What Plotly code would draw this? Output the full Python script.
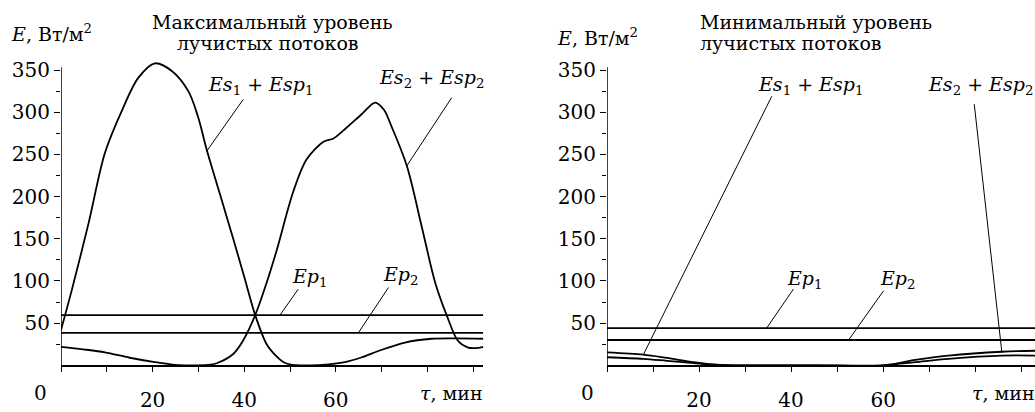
import plotly.graph_objects as go

# ---------------- data ----------------
# Left panel: maximum level of radiant fluxes
t_es1_max = [0, 2.3, 6, 9.6, 13.3, 16.9, 20.5, 24.2, 27.8, 29.9, 31.8, 34.7, 37.6, 40, 42.4,
             44.9, 46.8, 48.5, 50.5, 53, 57, 62, 65.7, 69.3, 75.1, 80.9, 86, 92.2]
v_es1_max = [42, 88, 168, 252, 302, 341, 358, 349, 325, 295, 256, 203, 150, 105, 59.5,
             25, 12, 4, 0.5, 0, 0.5, 3.8, 9.6, 17, 27, 31.5, 32, 31.5]

t_es2_max = [0, 4.8, 9.6, 15, 20.5, 25, 28, 32, 34, 37.6, 39.7, 42.4, 44.9, 47.1, 50.7,
             53.6, 57.3, 59.5, 62.2, 65.7, 68.6, 70.5, 72.2, 75.5, 78.8, 81.7, 84.2,
             86.7, 88.9, 90.5, 92.2]
v_es2_max = [22, 19, 15.4, 9, 3.8, 0.5, 0, 0.5, 2.5, 13.4, 28.8, 59.5, 98, 136.5, 205.7,
             244, 265, 269, 281, 298, 311.5, 303, 282.7, 236.5, 163.4, 98, 59.5,
             28.8, 21, 20.5, 22]

ep1_max = 59.5
ep2_max = 38.4

# Right panel: minimum level of radiant fluxes
t_es1_min = [0, 7.9, 13, 18.8, 23, 27.4, 45, 60, 67, 74.2, 85.8, 93]
v_es1_min = [15.4, 12.7, 8.8, 3.8, 1, 0, 0, 0, 3.8, 7.7, 11.5, 11.5]
t_es2_min = [0, 7.9, 13, 18.8, 23, 27.4, 45, 60, 67, 74.2, 85.8, 93]
v_es2_min = [9.6, 7.7, 5.4, 2.7, 0.8, 0, 0, 0, 6.5, 11.5, 16.1, 17.3]

ep1_min = 44.2
ep2_min = 30.0

x_max_left = 92.2
x_max_right = 93.0
y_axis_top = 353.5
y_view_top = 362.0

y_ticks = [50, 100, 150, 200, 250, 300, 350]
x_ticks = [20, 40, 60]

titles_left = ["Максимальный уровень", "лучистых потоков"]
titles_right = ["Минимальный уровень", "лучистых потоков"]
y_title = "<i>E</i>, Вт/м<sup>2</sup>"
x_title = "<i>τ</i>, мин"
lbl_es1 = "<i>Es</i><sub>1</sub> + <i>Esp</i><sub>1</sub>"
lbl_es2 = "<i>Es</i><sub>2</sub> + <i>Esp</i><sub>2</sub>"
lbl_ep1 = "<i>Ep</i><sub>1</sub>"
lbl_ep2 = "<i>Ep</i><sub>2</sub>"

# ---------------- layout geometry ----------------
W, H = 1035, 412
FONT = "DejaVu Serif"
FS = 19
Y0_PX = 373.3          # pixel row of value 0
PX_PER_UNIT = 0.8667   # vertical pixels per W/m2


def px(p):
    return p / W


def py(p):
    return 1 - p / H


fig = go.Figure()

line = dict(color="black", width=1.8)
spl = dict(**line, shape="spline", smoothing=0.9)
# left panel
fig.add_trace(go.Scatter(x=t_es1_max, y=v_es1_max, mode="lines", line=spl, xaxis="x", yaxis="y"))
fig.add_trace(go.Scatter(x=t_es2_max, y=v_es2_max, mode="lines", line=spl, xaxis="x", yaxis="y"))
fig.add_trace(go.Scatter(x=[0, x_max_left], y=[ep1_max, ep1_max], mode="lines", line=line, xaxis="x", yaxis="y"))
fig.add_trace(go.Scatter(x=[0, x_max_left], y=[ep2_max, ep2_max], mode="lines", line=line, xaxis="x", yaxis="y"))
# right panel
fig.add_trace(go.Scatter(x=t_es1_min, y=v_es1_min, mode="lines", line=spl, xaxis="x2", yaxis="y2"))
fig.add_trace(go.Scatter(x=t_es2_min, y=v_es2_min, mode="lines", line=spl, xaxis="x2", yaxis="y2"))
fig.add_trace(go.Scatter(x=[0, x_max_right], y=[ep1_min, ep1_min], mode="lines", line=line, xaxis="x2", yaxis="y2"))
fig.add_trace(go.Scatter(x=[0, x_max_right], y=[ep2_min, ep2_min], mode="lines", line=line, xaxis="x2", yaxis="y2"))

ydom = [py(Y0_PX), py(Y0_PX - y_view_top * PX_PER_UNIT)]
common_x = dict(showline=True, linecolor="black", linewidth=1.5, showgrid=False, zeroline=False,
                tickvals=x_ticks, ticks="outside", ticklen=5, tickwidth=1.2, tickcolor="black",
                minor=dict(dtick=10, tick0=0, ticks="outside", ticklen=5, tickwidth=1.2, tickcolor="black"),
                tickfont=dict(family=FONT, size=FS + 1, color="black"), ticklabelstandoff=11,
                fixedrange=True)
common_y = dict(showline=False, showgrid=False, zeroline=False,
                range=[0, y_view_top], tickvals=y_ticks, ticks="outside", ticklen=6, tickwidth=1.2,
                tickcolor="black",
                minor=dict(tickvals=[25, 75, 125, 175, 225, 275, 325], ticks="outside", ticklen=4,
                           tickwidth=1.2, tickcolor="black"),
                tickfont=dict(family=FONT, size=FS + 1, color="black"), domain=ydom, fixedrange=True)

fig.update_layout(
    width=W, height=H, margin=dict(l=0, r=0, t=0, b=0),
    paper_bgcolor="white", plot_bgcolor="rgba(0,0,0,0)", showlegend=False,
    xaxis=dict(**common_x, domain=[px(61), px(483.3)], range=[0, x_max_left], anchor="y"),
    yaxis=dict(**common_y, anchor="x"),
    xaxis2=dict(**common_x, domain=[px(607), 1.0], range=[0, x_max_right], anchor="y2"),
    yaxis2=dict(**common_y, anchor="x2"),
)

ann = []


def txt(text, x, y, xanchor="center", size=FS):
    ann.append(dict(text=text, x=px(x), y=py(y), xref="paper", yref="paper", xanchor=xanchor,
                    yanchor="middle", showarrow=False, font=dict(family=FONT, size=size, color="black")))


# titles
txt(titles_left[0], 272, 21)
txt(titles_left[1], 268, 42)
txt(titles_right[0], 698, 21, xanchor="left")
txt(titles_right[1], 698, 42, xanchor="left")
# axis titles
txt(y_title, 51, 32)
txt(y_title, 597, 36)
txt("0", 40, 402, size=FS + 1)
txt("0", 587, 402, size=FS + 1)
txt(x_title, 451, 402)
txt(x_title, 1003, 402)
# curve labels
txt(lbl_es1, 260, 86)
txt(lbl_es2, 431, 79)
txt(lbl_ep1, 310, 283)
txt(lbl_ep2, 401, 281)
txt(lbl_es1, 810, 86)
txt(lbl_es2, 980, 86)
txt(lbl_ep1, 805, 285)
txt(lbl_ep2, 898, 285)

fig.update_layout(annotations=ann)

# y-axis lines (drawn from 0 to the axis top)
for a in ["", "2"]:
    fig.add_shape(type="line", x0=0, y0=0, x1=0, y1=y_axis_top, xref="x" + a, yref="y" + a,
                  line=dict(color="black", width=1.5))

# leader lines (data coordinates): (x0, y0, x1, y1, axis)
leaders = [
    (39.8, 315.3, 31.8, 253.8, ""),
    (85.3, 317.3, 75.5, 236.5, ""),
    (51.8, 90.3, 47.8, 59.5, ""),
    (71.5, 92.3, 64.9, 38.4, ""),
    (35.8, 319.0, 7.9, 12.7, "2"),
    (79.8, 309.6, 85.8, 15.3, "2"),
    (40.5, 90.3, 34.7, 44.2, "2"),
    (60.1, 88.4, 52.5, 30.0, "2"),
]
for x0, y0, x1, y1, a in leaders:
    fig.add_shape(type="line", x0=x0, y0=y0, x1=x1, y1=y1, xref="x" + a, yref="y" + a,
                  line=dict(color="black", width=1))

fig.write_html("out.html")
